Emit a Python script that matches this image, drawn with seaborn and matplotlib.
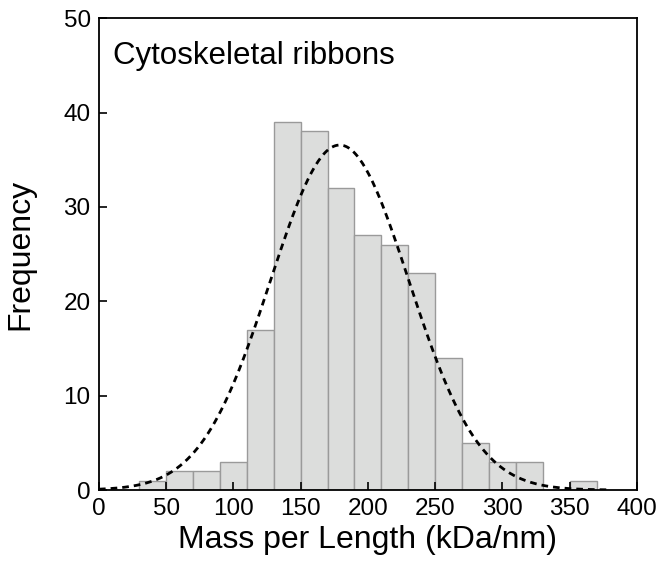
import numpy as np
import pandas as pd
import matplotlib
matplotlib.use("Agg")
import matplotlib.pyplot as plt
import seaborn as sns

# histogram data (bin edges every 20 kDa/nm)
bin_left = [30, 50, 70, 90, 110, 130, 150, 170, 190, 210, 230, 250, 270, 290, 310, 330, 350]
counts = [1, 2, 2, 3, 17, 39, 38, 32, 27, 26, 23, 14, 5, 3, 3, 0, 1]
bin_width = 20

# gaussian fit
fit_mean = 179
fit_sd = 51.5
fit_x_max = 378

title = "Cytoskeletal ribbons"
x_label = "Mass per Length (kDa/nm)"
y_label = "Frequency"

sns.set_style("ticks")
plt.rcParams["font.family"] = ["Liberation Sans", "DejaVu Sans"]
plt.rcParams["text.color"] = "black"
plt.rcParams["axes.labelcolor"] = "black"
plt.rcParams["xtick.color"] = "black"
plt.rcParams["ytick.color"] = "black"

df = pd.DataFrame({
    "center": np.array(bin_left) + bin_width / 2,
    "count": counts
})
edges = list(bin_left) + [bin_left[-1] + bin_width]

fig = plt.figure(figsize=(6.62, 5.67), dpi=100)
ax = fig.add_axes([0.1495, 0.1358, 0.8125, 0.832])

sns.histplot(
    data=df,
    x="center",
    weights="count",
    bins=edges,
    color="#dcdddc",
    edgecolor="#9a9a9a",
    linewidth=1.0,
    alpha=1.0,
    ax=ax
)

# normal curve scaled to counts
total = sum(counts)
xs = np.linspace(0, fit_x_max, 300)
ys = total * bin_width / (fit_sd * np.sqrt(2 * np.pi)) * np.exp(-0.5 * ((xs - fit_mean) / fit_sd) ** 2)
sns.lineplot(x=xs, y=ys, color="black", linewidth=2.0, ax=ax)
ax.lines[-1].set_dashes((2.4, 1.8))

ax.set_axisbelow(False)
ax.set_xlim(0, 400)
ax.set_ylim(0, 50)
ax.set_xticks(range(0, 401, 50))
ax.set_yticks(range(0, 51, 10))
ax.tick_params(direction="in", length=6, width=1.2, labelsize=17.5, pad=6,
               top=False, right=False, colors="black")

for s in ax.spines.values():
    s.set_visible(True)
    s.set_linewidth(1.3)
    s.set_color("black")

ax.set_xlabel(x_label, fontsize=23, labelpad=3)
ax.set_ylabel(y_label, fontsize=23, labelpad=20)
ax.text(0.027, 0.92, title, transform=ax.transAxes, fontsize=22.5,
        ha="left", va="center")

fig.savefig("out.png", dpi=100)
